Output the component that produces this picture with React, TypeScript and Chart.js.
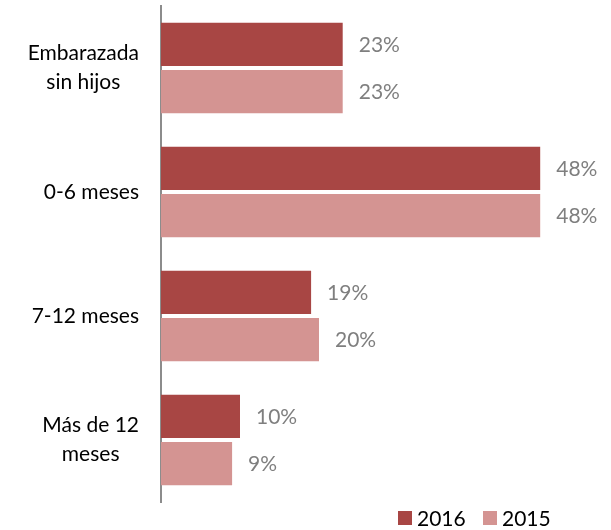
import React, { useEffect, useRef } from "react";
import { Chart, registerables } from "chart.js";

Chart.register(...registerables);

const categories: string[][] = [["Embarazada", "sin hijos"], ["0-6 meses"], ["7-12 meses"], ["Más de 12", "meses"]];
const seriesNames = ["2016", "2015"];
const values2016 = [23, 48, 19, 10];
const values2015 = [23, 48, 20, 9];
const colors = ["#A84644", "#D49492"];
const FONT = "Lato, 'Open Sans', sans-serif";

const customPlugin = {
  id: "custom",
  afterDatasetsDraw(chart: any) {
    const ctx = chart.ctx;
    ctx.save();
    // data labels
    ctx.font = `21px ${FONT}`;
    ctx.fillStyle = "#7F7F7F";
    ctx.textAlign = "left";
    ctx.textBaseline = "middle";
    chart.data.datasets.forEach((ds: any, di: number) => {
      const meta = chart.getDatasetMeta(di);
      meta.data.forEach((bar: any, i: number) => {
        ctx.fillText(ds.data[i] + "%", bar.x + 16, bar.y + 1);
      });
    });
    // category labels
    const yScale = chart.scales.y;
    ctx.fillStyle = "#000";
    ctx.font = `21px ${FONT}`;
    ctx.textAlign = "center";
    const right = 139;
    const lh = 29;
    categories.forEach((lines, i) => {
      const cy = yScale.getPixelForValue(i);
      const maxW = Math.max(...lines.map((l) => ctx.measureText(l).width));
      const cx = right - maxW / 2;
      lines.forEach((l, j) => {
        const y = cy + (j - (lines.length - 1) / 2) * lh;
        ctx.fillText(l, cx, y);
      });
    });
    // legend
    ctx.font = `21px ${FONT}`;
    ctx.textAlign = "left";
    let x = 398;
    const ly = 518;
    seriesNames.forEach((name, i) => {
      ctx.fillStyle = colors[i];
      ctx.fillRect(x, ly - 7, 14, 14);
      ctx.fillStyle = "#000";
      ctx.fillText(name, x + 19, ly + 1);
      x += 85;
    });
    ctx.restore();
  },
};

export default function App() {
  const ref = useRef<HTMLCanvasElement | null>(null);
  useEffect(() => {
    if (!ref.current) return;
    const chart = new Chart(ref.current, {
      type: "bar",
      data: {
        labels: categories.map((c) => c.join(" ")),
        datasets: [
          { label: seriesNames[0], data: values2016, backgroundColor: colors[0], barPercentage: 0.92, categoryPercentage: 0.76 },
          { label: seriesNames[1], data: values2015, backgroundColor: colors[1], barPercentage: 0.92, categoryPercentage: 0.76 },
        ],
      },
      options: {
        indexAxis: "y",
        animation: false,
        responsive: false,
        maintainAspectRatio: false,
        layout: { padding: { left: 161, right: 55, top: 6, bottom: 28 } },
        plugins: { legend: { display: false }, tooltip: { enabled: false } },
        scales: {
          x: { display: false, min: 0, max: 50 },
          y: {
            grid: { display: false, drawTicks: false },
            ticks: { display: false },
            border: { display: true, color: "#8C8C8C", width: 2 },
          },
        },
      },
      plugins: [customPlugin],
    });
    return () => chart.destroy();
  }, []);
  return (
    <div style={{ position: "fixed", left: 0, top: 0, width: 611, height: 530, background: "#fff" }}>
      <canvas ref={ref} width={611} height={530} />
    </div>
  );
}
